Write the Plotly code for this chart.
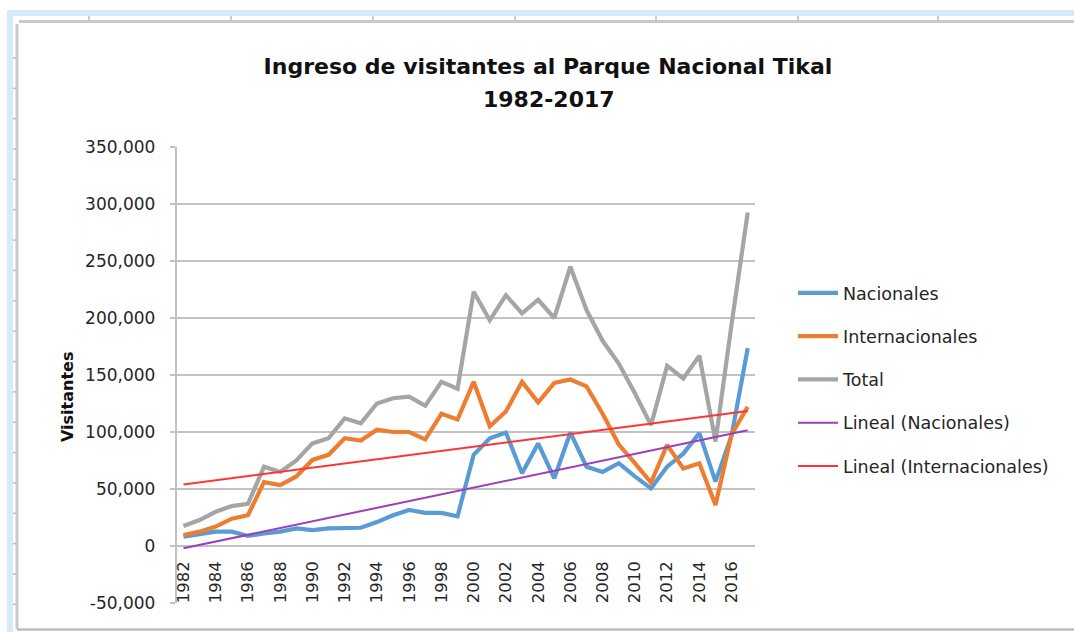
import plotly.graph_objects as go

# ---------------- data ----------------
years = [1982, 1983, 1984, 1985, 1986, 1987, 1988, 1989, 1990, 1991, 1992, 1993,
         1994, 1995, 1996, 1997, 1998, 1999, 2000, 2001, 2002, 2003, 2004, 2005,
         2006, 2007, 2008, 2009, 2010, 2011, 2012, 2013, 2014, 2015, 2016, 2017]

nacionales = [8200, 10500, 12600, 12600, 8800, 11000, 12600, 15500, 14000, 15500,
              16000, 16000, 21000, 27000, 31600, 29000, 29000, 26000,
              80000, 94500, 99500, 63800, 90000, 59400, 99500, 69600, 65000,
              72600, 61000, 50600, 69600, 81000, 99000, 56500, 97000, 173500]

internacionales = [9700, 12600, 17000, 24000, 27000, 56000, 53500, 61000, 75500, 80000,
                   94500, 92500, 102000, 100000, 100000, 93600, 116000, 111000,
                   144000, 105000, 118000, 144000, 126000, 143000, 146000, 140000,
                   116000, 89000, 72600, 55600, 88700, 68000, 72600, 36000, 98000, 122000]

total = [17500, 22800, 30000, 35000, 37000, 69600, 65000, 75000, 90000, 94500,
         112000, 107700, 125000, 129600, 131000, 123000, 144000, 138000,
         223000, 198000, 220000, 204000, 216000, 200000, 245000, 207000,
         180000, 160000, 134000, 106000, 158000, 147000, 167000, 91600, 195000, 292600]

# linear trend lines (start / end values)
trend_years = [1982, 2017]
trend_nacionales = [-2000, 101500]
trend_internacionales = [54000, 118500]

xtick_vals = years[::2]
xtick_text = [str(y) for y in xtick_vals]
ytick_vals = [-50000, 0, 50000, 100000, 150000, 200000, 250000, 300000, 350000]
ytick_text = ["-50,000", "0", "50,000", "100,000", "150,000", "200,000",
              "250,000", "300,000", "350,000"]

title_text = "Ingreso de visitantes al Parque Nacional Tikal"
subtitle_text = "1982-2017"
ytitle_text = "Visitantes"

# ---------------- figure ----------------
W, H = 1074, 632
L, R, T, B = 177, 319, 147, 29
PW, PH = W - L - R, H - T - B


def px(x):
    return (x - L) / PW


def py(y):
    return (H - B - y) / PH


FONT = "DejaVu Sans"
TXT = "#262626"

fig = go.Figure()
series = [
    ("Nacionales", years, nacionales, "#5b9bd5", 4.2),
    ("Internacionales", years, internacionales, "#ed7d31", 4.2),
    ("Total", years, total, "#a5a5a5", 4.2),
    ("Lineal (Nacionales)", trend_years, trend_nacionales, "#9b3fbd", 2),
    ("Lineal (Internacionales)", trend_years, trend_internacionales, "#ff3535", 2),
]
for i, (name, xs, ys, col, w) in enumerate(series):
    fig.add_trace(go.Scatter(x=xs, y=ys, name=name, mode="lines",
                             line=dict(color=col, width=w),
                             legendgroup=f"g{i}"))

grid = "#c2c2c2"
fig.update_layout(
    width=W, height=H,
    margin=dict(l=L, r=R, t=T, b=B, autoexpand=False),
    paper_bgcolor="white", plot_bgcolor="white",
    font=dict(family=FONT, color=TXT),
    title=dict(text=title_text, x=548 / W, xanchor="center",
               y=1 - 66 / H, yanchor="middle", yref="container",
               font=dict(family=FONT, size=22, color="#111111", weight="bold")),
    showlegend=True,
    legend=dict(x=px(793), xanchor="left", y=py(275), yanchor="top",
                font=dict(family=FONT, size=17.5, color=TXT),
                traceorder="grouped", tracegroupgap=17.5,
                bgcolor="rgba(0,0,0,0)", borderwidth=0, itemwidth=40),
    xaxis=dict(range=[1981.6, 2017.45], anchor="free", position=0.125,
               tickmode="array", tickvals=xtick_vals, ticktext=xtick_text,
               tickangle=-90, ticks="", showgrid=False, zeroline=False,
               showline=False, ticklabelstandoff=11,
               tickfont=dict(family=FONT, size=16.5, color=TXT)),
    yaxis=dict(range=[-50000, 350000], domain=[0, 1],
               tickmode="array", tickvals=ytick_vals, ticktext=ytick_text,
               showgrid=True, gridcolor=grid, gridwidth=2.4, zeroline=False,
               showline=True, linecolor=grid, linewidth=2.4,
               ticks="outside", ticklen=5, tickwidth=2, tickcolor=grid,
               ticklabelstandoff=11,
               tickfont=dict(family=FONT, size=17, color=TXT)),
)

fig.add_annotation(text=subtitle_text, xref="paper", yref="paper",
                   x=px(549), y=py(100), xanchor="center", yanchor="middle",
                   showarrow=False,
                   font=dict(family=FONT, size=22, color="#111111", weight="bold"))
fig.add_annotation(text=ytitle_text, xref="paper", yref="paper",
                   x=px(67), y=py(397), xanchor="center", yanchor="middle",
                   textangle=-90, showarrow=False,
                   font=dict(family=FONT, size=16, color="#111111", weight="bold"))

# ---------------- spreadsheet frame decoration ----------------
blue = "#d6ebfa"
border = "#c9c9c9"
shapes = [
    dict(type="rect", xref="paper", yref="paper", x0=px(7), x1=px(W), y0=py(10), y1=py(16),
         fillcolor=blue, line=dict(width=0), layer="below"),
    dict(type="rect", xref="paper", yref="paper", x0=px(7), x1=px(13), y0=py(10), y1=py(H),
         fillcolor=blue, line=dict(width=0), layer="below"),
    dict(type="line", xref="paper", yref="paper", x0=px(19), x1=px(W), y0=py(21.5), y1=py(21.5),
         line=dict(color=border, width=3)),
    dict(type="line", xref="paper", yref="paper", x0=px(17), x1=px(17), y0=py(24), y1=py(629),
         line=dict(color=border, width=3)),
    dict(type="line", xref="paper", yref="paper", x0=px(17), x1=px(W), y0=py(629.5), y1=py(629.5),
         line=dict(color="#bdbdbd", width=2.5)),
]
for cx in [89, 231, 373, 515, 656, 798, 938]:
    shapes.append(dict(type="line", xref="paper", yref="paper", x0=px(cx), x1=px(cx),
                       y0=py(16), y1=py(20.5), line=dict(color="#bdbdbd", width=1.5)))
ry = 58.0
while ry < 626:
    shapes.append(dict(type="line", xref="paper", yref="paper", x0=px(13), x1=px(16),
                       y0=py(ry), y1=py(ry), line=dict(color="#bdbdbd", width=1.5)))
    ry += 30.35
fig.update_layout(shapes=shapes)

fig.write_html("out.html",
               config={"displayModeBar": False},
               post_script="document.body.style.margin='0';"
                           "document.body.style.overflow='hidden';")
